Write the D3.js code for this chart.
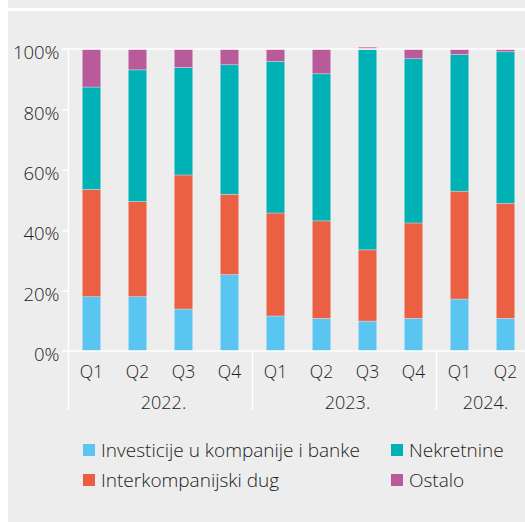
<!DOCTYPE html>
<html><head><meta charset="utf-8">
<script src="https://cdn.jsdelivr.net/npm/d3@7"></script>
<style>body{margin:0;background:#fff} svg{display:block}</style>
</head><body>
<script>
const quarters = ["Q1","Q2","Q3","Q4","Q1","Q2","Q3","Q4","Q1","Q2"];
const years = ["2022.","2023.","2024."];
const yearSpans = [4,4,2];
const seriesNames = ["Investicije u kompanije i banke","Interkompanijski dug","Nekretnine","Ostalo"];
const investicije = [18.0, 18.0, 13.9, 25.3, 11.6, 10.8, 9.9, 10.8, 17.2, 10.8];
const interkompanijski = [35.5, 31.5, 44.4, 26.6, 34.1, 32.3, 23.6, 31.6, 35.7, 38.1];
const nekretnine = [33.9, 43.6, 35.6, 42.9, 50.2, 48.7, 66.3, 54.4, 45.3, 50.2];
const ostalo = [12.6, 6.9, 6.1, 5.2, 4.1, 8.2, 0.8, 3.2, 1.8, 0.9];
const yTicks = [0,20,40,60,80,100];
const colors = ["#5bc5f2","#eb5f43","#00b1b5","#b95b9b"];

const W = 525, H = 522;
const svg = d3.select("body").append("svg").attr("width", W).attr("height", H);
const font = "'Open Sans', sans-serif";
const fw = 300;
const textColor = "#222";

// background
svg.append("rect").attr("x",8).attr("y",0).attr("width",W-8).attr("height",8).attr("fill","#ededed");
svg.append("rect").attr("x",8).attr("y",11).attr("width",W-8).attr("height",H-11).attr("fill","#ededed");

const idx = d3.range(quarters.length);
const x = d3.scaleBand().domain(idx).range([68.5, 528.5]).paddingInner(0.6).paddingOuter(0.3);
const y = d3.scaleLinear().domain([0,100]).range([351, 49]);

const table = idx.map(i => ({i, s0: investicije[i], s1: interkompanijski[i], s2: nekretnine[i], s3: ostalo[i]}));
const stack = d3.stack().keys(["s0","s1","s2","s3"]);
const stacked = stack(table);

// bars
svg.append("g").selectAll("g").data(stacked).join("g")
  .attr("fill", (d,k) => colors[k])
  .selectAll("rect").data(d => d).join("rect")
  .attr("x", d => x(d.data.i))
  .attr("width", x.bandwidth())
  .attr("y", d => y(d[1]))
  .attr("height", d => y(d[0]) - y(d[1]))
  .attr("stroke", "rgba(255,255,255,0.35)")
  .attr("stroke-width", 0.8);

// lines
const lineC = "#fff";
[0,100].forEach(v => {
  svg.append("line").attr("x1",62).attr("x2",W).attr("y1",y(v)).attr("y2",y(v))
    .attr("stroke",lineC).attr("stroke-width",1.6);
});
// y axis
const yAxis = d3.axisLeft(y).tickValues(yTicks).tickSize(6).tickFormat(d => d + "%");
const gy = svg.append("g").attr("transform","translate(68.5,0)").call(yAxis);
gy.select(".domain").remove();
gy.selectAll(".tick line").attr("stroke",lineC).attr("stroke-width",1.6);
gy.selectAll(".tick text").attr("x",-9).attr("dy","0.52em")
  .attr("font-family",font).attr("font-weight",fw).attr("font-size",18.5).attr("fill",textColor);
svg.append("line").attr("x1",68.5).attr("x2",68.5).attr("y1",49).attr("y2",410)
  .attr("stroke",lineC).attr("stroke-width",1.6);

// separators
let acc = 0;
const groupBounds = yearSpans.map(s => { const a = acc; acc += s; return [a, acc]; });
const step = x.step();
const x0 = 68.5;
groupBounds.slice(1).forEach(b => {
  const xx = x0 + b[0]*step;
  svg.append("line").attr("x1",xx).attr("x2",xx).attr("y1",351).attr("y2",410)
    .attr("stroke",lineC).attr("stroke-width",1.6);
});

// quarter labels
svg.append("g").selectAll("text").data(idx).join("text")
  .attr("x", i => x(i) + x.bandwidth()/2)
  .attr("y", 378)
  .attr("text-anchor","middle")
  .attr("font-family",font).attr("font-weight",fw).attr("font-size",17.5).attr("fill",textColor)
  .text(i => quarters[i]);

// year labels
svg.append("g").selectAll("text").data(groupBounds).join("text")
  .attr("x", b => x0 + (b[0]+b[1])/2*step + 3)
  .attr("y", 409)
  .attr("text-anchor","middle")
  .attr("font-family",font).attr("font-weight",fw).attr("font-size",18).attr("fill",textColor)
  .text((b,k) => years[k]);

// legend
const legendPos = [[83,444],[83,474],[391,444],[391,474]];
const lg = svg.append("g").selectAll("g").data(seriesNames).join("g")
  .attr("transform",(d,k) => `translate(${legendPos[k][0]},${legendPos[k][1]})`);
lg.append("rect").attr("width",12).attr("height",12).attr("fill",(d,k)=>colors[k]);
lg.append("text").attr("x",18).attr("y",12.5).attr("font-family",font).attr("font-weight",fw).attr("font-size",19)
  .attr("fill",textColor).text(d => d);
</script>
</body></html>
